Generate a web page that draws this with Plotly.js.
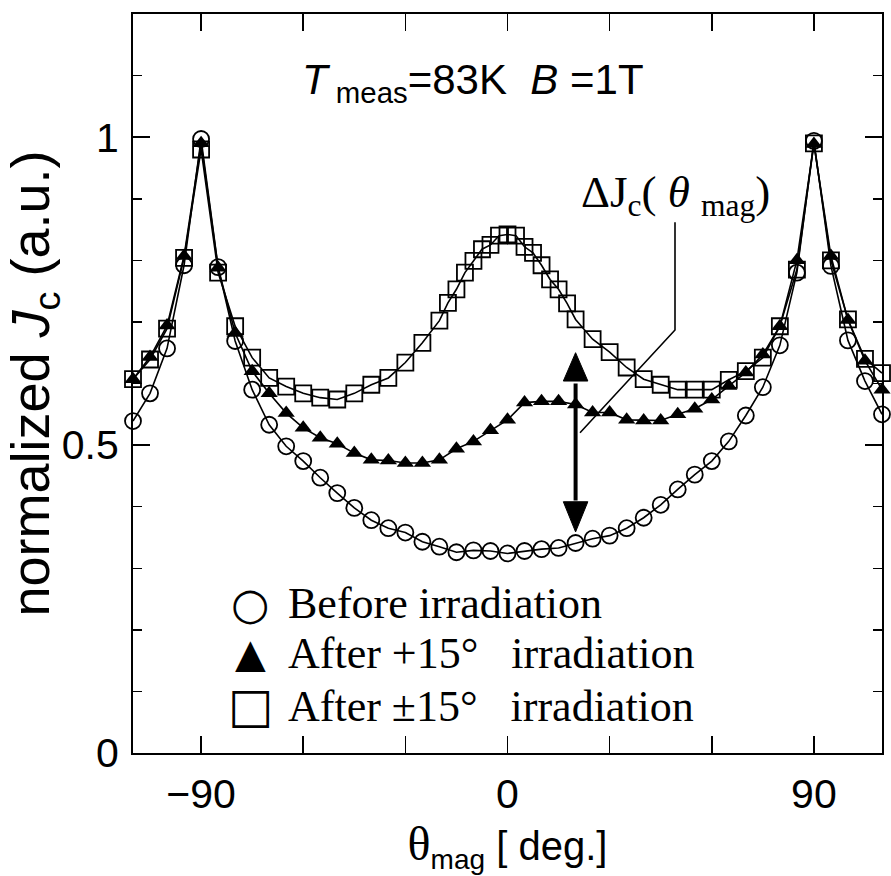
<!DOCTYPE html>
<html>
<head>
<meta charset="utf-8">
<script src="https://cdn.plot.ly/plotly-3.0.1.min.js"></script>
<style>html,body{margin:0;padding:0;background:#fff;}</style>
</head>
<body>
<div id="chart" style="width:891px;height:876px;"></div>
<script>
// angle grid (deg)
const thetaBefore = [-110,-105,-100,-95,-90,-85,-80,-75,-70,-65,-60,-55,-50,-45,-40,-35,-30,-25,-20,-15,-10,-5,0,5,10,15,20,25,30,35,40,45,50,55,60,65,70,75,80,85,90,95,100,105,110];
const jcBefore = [0.539,0.584,0.657,0.792,0.997,0.789,0.669,0.590,0.533,0.498,0.474,0.447,0.422,0.398,0.378,0.365,0.358,0.343,0.335,0.326,0.329,0.328,0.324,0.328,0.331,0.333,0.341,0.348,0.353,0.365,0.382,0.403,0.428,0.452,0.474,0.506,0.548,0.594,0.662,0.780,0.994,0.791,0.670,0.604,0.550];

const thetaPlus15 = [-110,-105,-100,-95,-90,-85,-80,-75,-70,-65,-60,-55,-50,-45,-40,-35,-30,-25,-20,-15,-10,-5,0,5,10,15,20,25,30,35,40,45,50,55,60,65,70,75,80,85,90,95,100,105,110];
const jcPlus15 = [0.607,0.643,0.694,0.807,0.990,0.788,0.682,0.620,0.584,0.552,0.528,0.512,0.502,0.487,0.476,0.475,0.471,0.471,0.476,0.494,0.506,0.524,0.541,0.569,0.571,0.571,0.566,0.553,0.553,0.541,0.540,0.540,0.550,0.559,0.574,0.596,0.618,0.647,0.693,0.800,0.989,0.807,0.703,0.637,0.590];

const thetaPM15 = [-110,-105,-100,-95,-90,-85,-80,-75,-70,-65,-60,-55,-50,-45,-40,-35,-30,-25,-20,-17.5,-15,-12.5,-10,-7.5,-5,-2.5,0,2.5,5,7.5,10,12.5,15,17.5,20,25,30,35,40,45,50,55,60,65,70,75,80,85,90,95,100,105,110];
const jcPM15 = [0.607,0.639,0.689,0.804,0.980,0.780,0.693,0.642,0.609,0.595,0.584,0.577,0.574,0.584,0.598,0.609,0.634,0.666,0.702,0.731,0.753,0.780,0.799,0.818,0.825,0.840,0.842,0.840,0.822,0.812,0.792,0.769,0.753,0.730,0.704,0.672,0.651,0.626,0.607,0.598,0.590,0.590,0.590,0.606,0.620,0.642,0.693,0.785,0.990,0.800,0.704,0.640,0.617];

const xTickLabels = ['\u221290','0','90'];
const legendLabels = ['Before irradiation','After +15\u00b0\u00a0\u00a0\u00a0irradiation','After \u00b115\u00b0\u00a0\u00a0\u00a0irradiation'];

const SANS = 'Liberation Sans, Arial, Helvetica, sans-serif';
const SERIF = 'Liberation Serif, Times New Roman, serif';

const lineStyle = {color:'black', width:1.6};
const traces = [
  {x: thetaBefore, y: jcBefore, mode:'lines+markers', line: lineStyle, cliponaxis:false,
   marker:{symbol:'circle-open', size:16, color:'black', line:{width:1.8, color:'black'}}, name:'Before irradiation'},
  {x: thetaPlus15, y: jcPlus15, mode:'lines+markers', line: lineStyle, cliponaxis:false,
   marker:{symbol:'triangle-up', size:15, color:'black', line:{width:0}}, name:'After +15° irradiation'},
  {x: thetaPM15, y: jcPM15, mode:'lines+markers', line: lineStyle, cliponaxis:false,
   marker:{symbol:'square-open', size:16, color:'black', line:{width:1.8, color:'black'}}, name:'After ±15° irradiation'}
];

const axisCommon = {
  showline:true, linecolor:'black', linewidth:2, mirror:'ticks',
  ticks:'inside', tickcolor:'black', tickwidth:1.5,
  showgrid:false, zeroline:false, automargin:false,
  tickfont:{family:SANS, size:41, color:'black'}
};

const layout = {
  width:891, height:876,
  margin:{l:133, r:9, t:14, b:123},
  paper_bgcolor:'white', plot_bgcolor:'white',
  showlegend:false,
  xaxis: Object.assign({}, axisCommon, {
    range:[-110,110], tickmode:'array', tickvals:[-90,0,90], ticktext:xTickLabels, ticklen:17,
    minor:{tickmode:'linear', tick0:0, dtick:30, ticklen:17, tickwidth:1.5, tickcolor:'black', ticks:'inside'},
    ticklabelstandoff:4,
    title:{text:'<span style="font-family:Liberation Serif;font-size:48px">\u03b8</span><sub>mag</sub> [ deg.]', font:{family:SANS, size:40, color:'black'}, standoff:6}
  }),
  yaxis: Object.assign({}, axisCommon, {
    range:[0,1.2], tickmode:'linear', tick0:0, dtick:0.5, ticklen:17,
    minor:{tickmode:'linear', tick0:0, dtick:0.1, ticklen:9, tickwidth:1.5, tickcolor:'black', ticks:'inside'},
    ticklabelstandoff:4,
    title:{text:'normalized <i>J</i><sub>c</sub> (a.u.)', font:{family:SANS, size:54, color:'black'}, standoff:0}
  }),
  annotations:[
    {x:-10, y:1.088, xref:'x', yref:'y', showarrow:false, xanchor:'center', yanchor:'middle',
     text:'<i>T</i><sub> meas</sub>=83K  <i>B</i> =1T', font:{family:SANS, size:42, color:'black'}},
    {x:49.2, y:0.906, xref:'x', yref:'y', showarrow:false, xanchor:'center', yanchor:'middle',
     text:'\u0394J<sub>c</sub>( <i>\u03b8</i> <sub>mag</sub>)', font:{family:SERIF, size:45, color:'black'}},
    {x:-75.6, y:0.243, xref:'x', yref:'y', showarrow:false, xanchor:'center', yanchor:'middle',
     text:'\u25cb', font:{family:'DejaVu Sans', size:44, color:'black'}},
    {x:-75.6, y:0.162, xref:'x', yref:'y', showarrow:false, xanchor:'center', yanchor:'middle',
     text:'\u25b2', font:{family:'DejaVu Sans', size:40, color:'black'}},
    {x:-75.6, y:0.078, xref:'x', yref:'y', showarrow:false, xanchor:'center', yanchor:'middle',
     text:'\u25a1', font:{family:'DejaVu Sans', size:48, color:'black'}},
    {x:-65.1, y:0.242, xref:'x', yref:'y', showarrow:false, xanchor:'left', yanchor:'middle',
     text:legendLabels[0], font:{family:SERIF, size:44, color:'black'}},
    {x:-65.1, y:0.161, xref:'x', yref:'y', showarrow:false, xanchor:'left', yanchor:'middle',
     text:legendLabels[1], font:{family:SERIF, size:44, color:'black'}},
    {x:-65.1, y:0.076, xref:'x', yref:'y', showarrow:false, xanchor:'left', yanchor:'middle',
     text:legendLabels[2], font:{family:SERIF, size:44, color:'black'}}
  ],
  shapes:[
    // leader line from the ΔJc label to the arrow
    {type:'path', xref:'x', yref:'y', path:'M 49.2,0.862 L 49.2,0.687 L 21.3,0.52', line:{color:'black', width:1.6}},
    // double arrow shaft
    {type:'line', xref:'x', yref:'y', x0:20, x1:20, y0:0.60, y1:0.41, line:{color:'black', width:4}},
    // arrow heads
    {type:'path', xref:'x', yref:'y', path:'M 20,0.650 L 16.4,0.604 L 23.6,0.604 Z', fillcolor:'black', line:{color:'black', width:1}},
    {type:'path', xref:'x', yref:'y', path:'M 20,0.359 L 16.4,0.408 L 23.6,0.408 Z', fillcolor:'black', line:{color:'black', width:1}}
  ]
};

Plotly.newPlot('chart', traces, layout, {displayModeBar:false, staticPlot:true});
</script>
</body>
</html>
